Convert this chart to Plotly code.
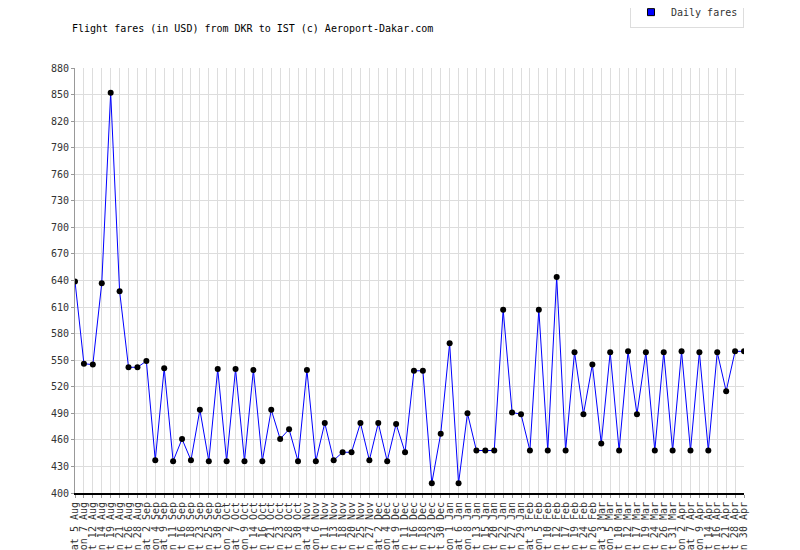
import plotly.graph_objects as go

dates = ['Sat 5 Aug', 'Mon 7 Aug', 'Sat 12 Aug', 'Mon 14 Aug', 'Sat 19 Aug', 'Mon 21 Aug',
         'Sat 26 Aug', 'Mon 28 Aug', 'Sat 2 Sep', 'Mon 4 Sep', 'Sat 9 Sep', 'Mon 11 Sep',
         'Sat 16 Sep', 'Mon 18 Sep', 'Sat 23 Sep', 'Mon 25 Sep', 'Sat 30 Sep', 'Mon 2 Oct',
         'Sat 7 Oct', 'Mon 9 Oct', 'Sat 14 Oct', 'Mon 16 Oct', 'Sat 21 Oct', 'Mon 23 Oct',
         'Sat 28 Oct', 'Mon 30 Oct', 'Sat 4 Nov', 'Mon 6 Nov', 'Sat 11 Nov', 'Mon 13 Nov',
         'Sat 18 Nov', 'Mon 20 Nov', 'Sat 25 Nov', 'Mon 27 Nov', 'Sat 2 Dec', 'Mon 4 Dec',
         'Sat 9 Dec', 'Mon 11 Dec', 'Sat 16 Dec', 'Mon 18 Dec', 'Sat 23 Dec', 'Sat 30 Dec',
         'Mon 1 Jan', 'Sat 6 Jan', 'Mon 8 Jan', 'Sat 13 Jan', 'Mon 15 Jan', 'Sat 20 Jan',
         'Mon 22 Jan', 'Sat 27 Jan', 'Mon 29 Jan', 'Sat 3 Feb', 'Mon 5 Feb', 'Sat 10 Feb',
         'Mon 12 Feb', 'Sat 17 Feb', 'Mon 19 Feb', 'Sat 24 Feb', 'Mon 26 Feb', 'Sat 3 Mar',
         'Mon 5 Mar', 'Sat 10 Mar', 'Mon 12 Mar', 'Sat 17 Mar', 'Mon 19 Mar', 'Sat 24 Mar',
         'Mon 26 Mar', 'Sat 31 Mar', 'Mon 2 Apr', 'Sat 7 Apr', 'Mon 9 Apr', 'Sat 14 Apr',
         'Mon 16 Apr', 'Sat 21 Apr', 'Sat 28 Apr', 'Mon 30 Apr']

fares = [639, 546, 545, 637, 852, 628, 542, 542, 549, 437, 541, 436, 461, 437, 494, 436,
         540, 436, 540, 436, 539, 436, 494, 461, 472, 436, 539, 436, 479, 437, 446, 446,
         479, 437, 479, 436, 478, 446, 538, 538, 411, 467, 569, 411, 490, 448, 448, 448,
         607, 491, 489, 448, 607, 448, 644, 448, 559, 489, 545, 456, 559, 448, 560, 489,
         559, 448, 559, 448, 560, 448, 559, 448, 559, 515, 560, 560]

font = 'DejaVu Sans Mono'

fig = go.Figure()
fig.add_scatter(x=list(range(len(dates))), y=fares, mode='lines+markers', showlegend=False,
                line=dict(color='#0000ff', width=1),
                marker=dict(color='black', size=6))
# legend entry: blue square
fig.add_scatter(x=[None], y=[None], mode='markers', name='Daily fares',
                marker=dict(color='#0000ff', size=7, symbol='square',
                            line=dict(color='black', width=1)))

fig.update_layout(
    width=800, height=550,
    margin=dict(l=67, r=64, t=60, b=65, autoexpand=False),
    paper_bgcolor='white', plot_bgcolor='white',
    font=dict(family=font, size=10, color='#333'),
    legend=dict(x=736, y=1.095, xref='paper', xanchor='right', yanchor='bottom',
                bordercolor='#ddd', borderwidth=1, font=dict(size=10, color='#333'),
                itemwidth=30, tracegroupgap=0),
    xaxis=dict(tickmode='array', tickvals=list(range(len(dates))), ticktext=dates,
               tickangle=-90, range=[0, len(dates) - 1], showgrid=True,
               gridcolor='#dddddd', showline=True, linecolor='black', linewidth=2,
               ticks='outside', ticklen=3, tickcolor='#999', zeroline=False,
               automargin=False),
    yaxis=dict(range=[400, 880], dtick=30, tick0=400, showgrid=True,
               gridcolor='#dddddd', showline=True, linecolor='#999', linewidth=1,
               ticks='outside', ticklen=3, tickcolor='#999', zeroline=False,
               automargin=False),
)
fig.update_layout(legend_x=1.0)
fig.add_annotation(text='Flight fares (in USD) from DKR to IST (c) Aeroport-Dakar.com',
                   xref='paper', yref='paper', x=-0.007, y=1.075, xanchor='left',
                   yanchor='bottom', showarrow=False, font=dict(size=10, color='black'))

fig.write_html('out.html')
